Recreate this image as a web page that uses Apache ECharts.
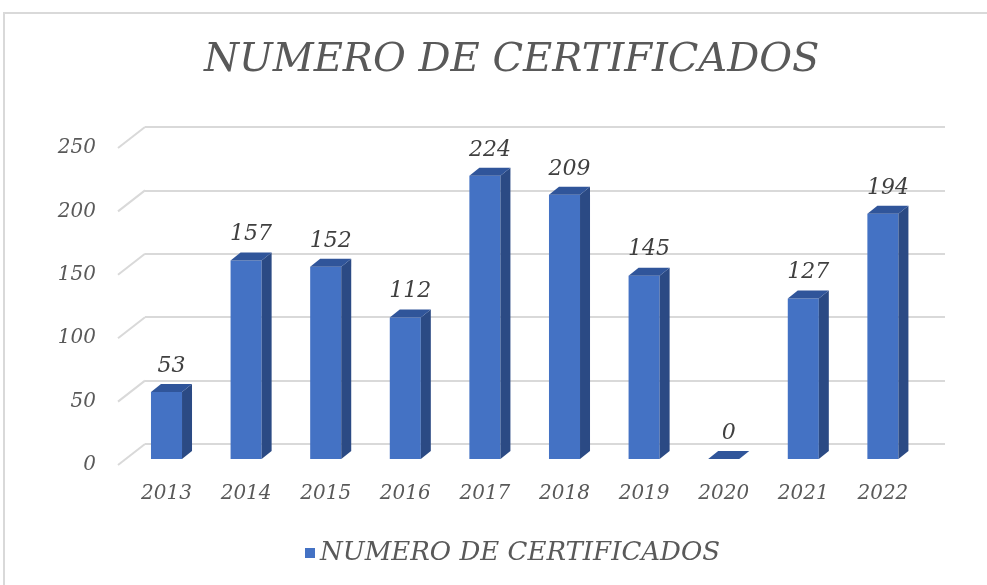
<!DOCTYPE html>
<html>
<head>
<meta charset="utf-8">
<script src="https://cdn.jsdelivr.net/npm/echarts@6/dist/echarts.min.js"></script>
<style>
  html, body { margin: 0; padding: 0; background: #fff; }
  #chart { width: 987px; height: 585px; }
</style>
</head>
<body>
<div id="chart"></div>
<script>
const years = ['2013', '2014', '2015', '2016', '2017', '2018', '2019', '2020', '2021', '2022']
const counts = [53, 157, 152, 112, 224, 209, 145, 0, 127, 194]
const yTicks = [0, 50, 100, 150, 200, 250]
const seriesName = 'NUMERO DE CERTIFICADOS'

const font = '"DejaVu Serif", serif'
const DX = 10, DY = 8 // bar depth
const WX = 27, WY = 21 // floor depth

const chart = echarts.init(document.getElementById('chart'))

function renderBar(params, api) {
  const v = api.value(1)
  const base = api.coord([api.value(0), 0])
  const top = api.coord([api.value(0), v])
  const bw = api.size([1, 0])[0] * 0.39
  const x0 = base[0] - bw / 2
  const x1 = base[0] + bw / 2
  const yb = base[1]
  const yt = top[1]
  return {
    type: 'group',
    children: [
      {
        type: 'rect',
        shape: { x: x0, y: yt, width: bw, height: yb - yt },
        style: { fill: '#4472c4' }
      },
      {
        type: 'polygon',
        shape: { points: [[x1, yt], [x1 + DX, yt - DY], [x1 + DX, yb - DY], [x1, yb]] },
        style: { fill: '#2b4a84' }
      },
      {
        type: 'polygon',
        shape: { points: [[x0, yt], [x1, yt], [x1 + DX, yt - DY], [x0 + DX, yt - DY]] },
        style: { fill: '#30559a' }
      },
      {
        type: 'text',
        style: {
          x: base[0] + DX / 2,
          y: yt - DY - 7,
          text: String(v),
          align: 'center',
          verticalAlign: 'bottom',
          font: 'italic 22px ' + font,
          fill: '#404040'
        }
      }
    ]
  }
}

function renderDiag(params, api) {
  const y = api.coord([0, api.value(0)])[1]
  const x = params.coordSys.x
  return {
    type: 'line',
    shape: { x1: x, y1: y, x2: x - WX, y2: y + WY },
    style: { stroke: '#d9d9d9', lineWidth: 2 }
  }
}

const option = {
  backgroundColor: '#fff',
  animation: false,
  title: {
    text: 'NUMERO DE CERTIFICADOS',
    left: 199,
    top: 36,
    textStyle: { fontFamily: font, fontStyle: 'italic', fontWeight: 'normal', fontSize: 40, color: '#595959' }
  },
  legend: {
    left: 300,
    top: 535,
    icon: 'rect',
    itemWidth: 10,
    itemHeight: 10,
    itemGap: 8,
    data: [{ name: seriesName, itemStyle: { color: '#4472c4' } }],
    textStyle: { fontFamily: font, fontStyle: 'italic', fontSize: 26, color: '#595959' }
  },
  graphic: [
    {
      type: 'rect',
      shape: { x: 4, y: 13, width: 1000, height: 600 },
      style: { fill: 'none', stroke: '#d9d9d9', lineWidth: 2 },
      silent: true
    }
  ],
  grid: [
    { left: 145, width: 800, top: 127, height: 317 },
    { left: 118, width: 800, top: 148, height: 317 },
    { left: 126.7, width: 796, top: 143, height: 316 }
  ],
  xAxis: [
    { gridIndex: 0, type: 'category', data: years, show: false },
    { gridIndex: 1, type: 'category', data: years, show: false },
    {
      gridIndex: 2,
      type: 'category',
      data: years,
      axisLine: { show: false },
      axisTick: { show: false },
      axisLabel: { margin: 25, fontFamily: font, fontStyle: 'italic', fontSize: 20, color: '#595959' }
    }
  ],
  yAxis: [
    {
      gridIndex: 0, type: 'value', min: 0, max: 250, interval: 50,
      axisLabel: { show: false },
      axisLine: { show: false },
      axisTick: { show: false },
      splitLine: { lineStyle: { color: '#d9d9d9', width: 2 } }
    },
    {
      gridIndex: 1, type: 'value', min: 0, max: 250, interval: 50,
      axisLine: { show: false },
      axisTick: { show: false },
      splitLine: { show: false },
      axisLabel: { margin: 22, fontFamily: font, fontStyle: 'italic', fontSize: 20, color: '#595959' }
    },
    {
      gridIndex: 2, type: 'value', min: 0, max: 250, interval: 50, show: false
    }
  ],
  series: [
    {
      type: 'custom',
      xAxisIndex: 0,
      yAxisIndex: 0,
      silent: true,
      renderItem: renderDiag,
      data: yTicks.map(v => [v])
    },
    {
      name: seriesName,
      type: 'custom',
      xAxisIndex: 2,
      yAxisIndex: 2,
      itemStyle: { color: '#4472c4' },
      renderItem: renderBar,
      data: counts.map((v, i) => [i, v])
    }
  ]
}

chart.setOption(option)
</script>
</body>
</html>
